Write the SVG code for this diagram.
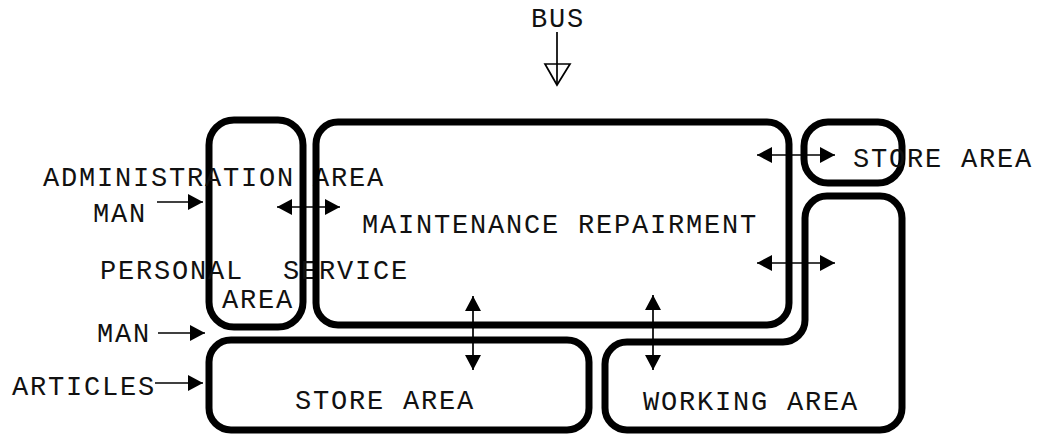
<svg xmlns="http://www.w3.org/2000/svg" width="1037" height="435" viewBox="0 0 1037 435">
<style>
.box{fill:none;stroke:#000;stroke-width:7;stroke-linejoin:round}
.lbl{font-family:"Liberation Mono","DejaVu Sans Mono",monospace;font-size:27px;letter-spacing:1.8px;fill:#111}
.c{stroke:#000;stroke-width:1.7;fill:none}
.one{marker-end:url(#ah)}
.two{marker-start:url(#ahs);marker-end:url(#ah)}
</style>
<defs>
<marker id="ah" viewBox="0 0 15 16" refX="15" refY="8" markerWidth="15" markerHeight="16" markerUnits="userSpaceOnUse" orient="auto">
<path d="M0,0 L15,8 L0,16 Z" fill="#000"/>
</marker>
<marker id="ahs" viewBox="0 0 15 16" refX="0" refY="8" markerWidth="15" markerHeight="16" markerUnits="userSpaceOnUse" orient="auto">
<path d="M15,0 L0,8 L15,16 Z" fill="#000"/>
</marker>
</defs>
<rect width="1037" height="435" fill="#fff"/>
<g id="bus">
<text class="lbl" x="531" y="27">BUS</text>
</g>
<g id="administration">
<rect class="box" x="209" y="120" width="94" height="207" rx="25"/>
<text class="lbl" x="43" y="186">ADMINISTRATION AREA</text>
<text class="lbl" x="100" y="279">PERSONAL<tspan x="283">SERVICE</tspan></text>
<text class="lbl" x="222" y="308">AREA</text>
</g>
<g id="maintenance">
<rect class="box" x="316" y="122" width="473" height="203" rx="22"/>
<text class="lbl" x="362" y="233">MAINTENANCE REPAIRMENT</text>
</g>
<g id="store-top">
<rect class="box" x="804" y="122" width="98" height="61" rx="24"/>
<text class="lbl" x="853" y="167">STORE AREA</text>
</g>
<g id="store-bottom">
<rect class="box" x="209" y="340" width="380" height="90" rx="22"/>
<text class="lbl" x="295" y="409">STORE AREA</text>
</g>
<g id="working">
<path class="box" d="M627,342 L783,342 A22,22 0 0 0 805,320 L805,218 A22,22 0 0 1 827,196 L880,196 A22,22 0 0 1 902,218 L902,408 A22,22 0 0 1 880,430 L627,430 A22,22 0 0 1 605,408 L605,364 A22,22 0 0 1 627,342 Z"/>
<text class="lbl" x="643" y="410">WORKING AREA</text>
</g>
<g id="inputs">
<text class="lbl" x="93" y="222">MAN</text>
<text class="lbl" x="97" y="342">MAN</text>
<text class="lbl" x="12" y="395">ARTICLES</text>
</g>
<g id="connectors">
<line class="c" x1="557" y1="32" x2="557" y2="85"/>
<path d="M545,64 L570,64 L557,85 Z" fill="none" stroke="#000" stroke-width="1.7"/>
<line class="c one" x1="157" y1="202" x2="203" y2="202"/>
<line class="c one" x1="158" y1="333" x2="205" y2="333"/>
<line class="c one" x1="155" y1="383" x2="203" y2="383"/>
<line class="c two" x1="277" y1="207" x2="340" y2="207"/>
<line class="c two" x1="757" y1="155" x2="835" y2="155"/>
<line class="c two" x1="757" y1="263" x2="835" y2="263"/>
<line class="c two" x1="473" y1="296" x2="473" y2="370"/>
<line class="c two" x1="653" y1="295" x2="653" y2="370"/>
</g>
</svg>
